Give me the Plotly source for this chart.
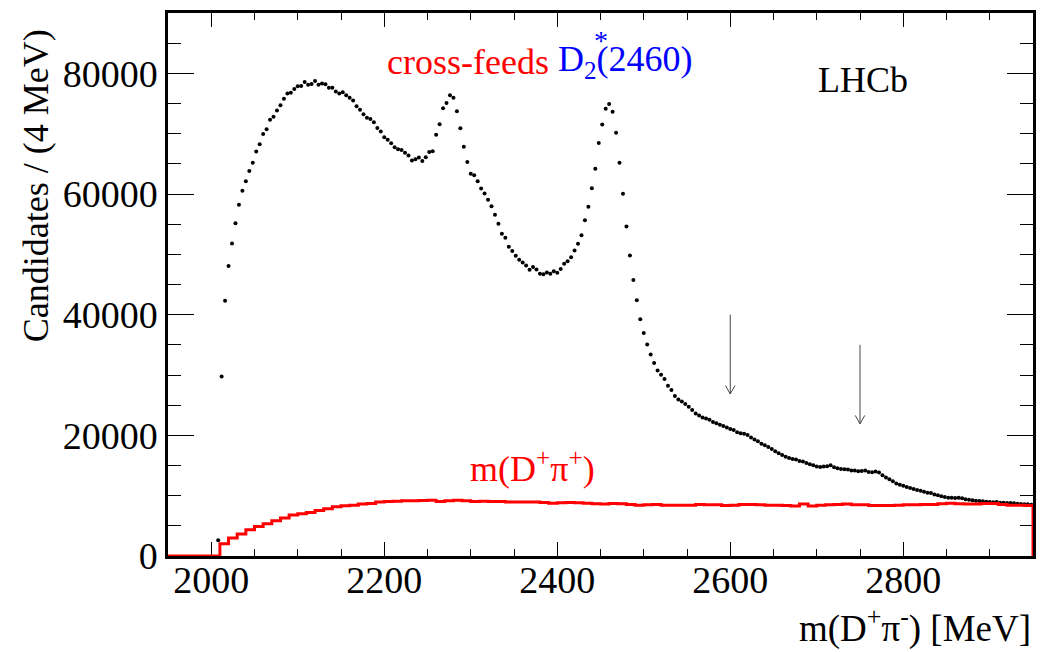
import plotly.graph_objects as go

# m(D+ pi-) candidates, 4 MeV bins, first bin centre 2008 MeV
DATA_FIRST_CENTRE = 2008
DATA_BIN_WIDTH = 4
data_counts = [
    2600, 29750, 42300, 48050, 51800, 55150, 58200, 60550, 62100, 63800,
    65200, 67050, 68250, 69950, 70750, 72300, 72800, 73850, 74700, 75800,
    76650, 76800, 77400, 77850, 77900, 78550, 78100, 78250, 78750, 78100,
    78300, 78200, 77600, 77600, 77000, 76650, 76850, 76350, 75950, 75500,
    74550, 73950, 73200, 72650, 72450, 71900, 70950, 70350, 69400, 69000,
    68400, 67750, 67400, 67300, 66850, 66400, 65550, 65750, 66050, 65450,
    66100, 66950, 67100, 69800, 71550, 74200, 75100, 76350, 75950, 73700,
    70900, 67850, 65300, 63350, 63100, 62100, 60900, 60100, 59050, 57950,
    56550, 55050, 53400, 52750, 51250, 50550, 49750, 49100, 48650, 48150,
    47450, 47900, 47500, 46800, 46700, 47000, 46800, 47200, 46950, 47550,
    48450, 48850, 49500, 50650, 51750, 53150, 55650, 57900, 60950, 64200,
    68450, 71500, 74150, 74900, 73650, 70150, 65200, 60050, 54600, 49800,
    45750, 42400, 39250, 36950, 35050, 33400, 32000, 30750, 30050, 29350,
    28200, 27500, 26500, 25950, 25600, 25200, 24750, 24200, 23600, 23300,
    22950, 22800, 22600, 22200, 22000, 21750, 21550, 21300, 21050, 20900,
    20500, 20350, 20250, 20050, 19650, 19300, 19010, 18620, 18350, 18070,
    17740, 17360, 17030, 16750, 16470, 16250, 16090, 15980, 15760, 15650,
    15430, 15220, 15050, 14830, 14770, 14830, 14880, 15050, 14710, 14550,
    14440, 14380, 14330, 14160, 14160, 14050, 14100, 14160, 13940, 13890,
    14000, 13830, 13390, 13010, 12730, 12400, 12030, 11810, 11650, 11420,
    11260, 11090, 10930, 10820, 10650, 10490, 10430, 10210, 10050, 9890,
    9780, 9670, 9670, 9610, 9670, 9560, 9390, 9340, 9230, 9170,
    9120, 9060, 9010, 8950, 8900, 8950, 8840, 8840, 8780, 8780,
    8730, 8680, 8620, 8570, 8570, 8510,
]

# wrong-sign m(D+ pi+) cross-feed histogram, 10 MeV bins from 2010 MeV
XFEED_LOW_EDGE = 2010
XFEED_BIN_WIDTH = 10
xfeed_counts = [
    2050, 2980, 3640, 4360, 4910, 5360, 5850, 6280, 6780, 7010,
    7220, 7550, 7830, 8160, 8330, 8430, 8600, 8710, 8930, 9040,
    9090, 9150, 9150, 9200, 9260, 9040, 9150, 9260, 9150, 9040,
    9090, 9040, 9040, 8930, 8930, 8930, 8930, 8870, 8760, 8820,
    8870, 8820, 8760, 8650, 8600, 8710, 8650, 8540, 8430, 8490,
    8540, 8430, 8430, 8430, 8430, 8540, 8490, 8490, 8380, 8430,
    8540, 8540, 8490, 8430, 8430, 8380, 8270, 8600, 8270, 8430,
    8490, 8540, 8600, 8490, 8490, 8380, 8380, 8380, 8430, 8490,
    8490, 8540, 8540, 8650, 8760, 8650, 8600, 8600, 8710, 8710,
    8540, 8430, 8430, 8380,
]

# marked masses (arrow x, arrow top, arrow tip)
arrow_mass = [2600, 2750]
arrow_top = [40000, 35000]
arrow_tip = [26850, 21900]

X_RANGE = [1950, 2950]
Y_RANGE = [0, 90000]
x_ticks = [2000, 2200, 2400, 2600, 2800]
y_ticks = [0, 20000, 40000, 60000, 80000]
x_tick_text = [str(v) for v in x_ticks]
y_tick_text = [str(v) for v in y_ticks]

FONT = "Liberation Serif, Times New Roman, serif"

data_x = [DATA_FIRST_CENTRE + DATA_BIN_WIDTH * i for i in range(len(data_counts))]

# step outline: zero before the first bin, back to zero at the last edge
xf_x = [X_RANGE[0]] + [XFEED_LOW_EDGE + XFEED_BIN_WIDTH * i for i in range(len(xfeed_counts) + 1)]
xf_y = [0] + xfeed_counts + [0]

fig = go.Figure()

fig.add_trace(go.Scatter(
    x=data_x, y=data_counts, mode="markers",
    marker=dict(color="black", size=4, line=dict(width=0)),
    showlegend=False, hoverinfo="skip",
))

fig.add_trace(go.Scatter(
    x=xf_x, y=xf_y, mode="lines", line_shape="hv",
    line=dict(color="#ff0000", width=3),
    showlegend=False, hoverinfo="skip",
))

# downward arrows with open heads
head_dx = 5.5
head_dy = 1400
for m, top, tip in zip(arrow_mass, arrow_top, arrow_tip):
    fig.add_shape(type="line", x0=m, x1=m, y0=top, y1=tip,
                  line=dict(color="#444444", width=1))
    fig.add_shape(type="line", x0=m - head_dx, x1=m, y0=tip + head_dy, y1=tip,
                  line=dict(color="#444444", width=1))
    fig.add_shape(type="line", x0=m + head_dx, x1=m, y0=tip + head_dy, y1=tip,
                  line=dict(color="#444444", width=1))

axis_common = dict(
    showline=True, linecolor="black", linewidth=2.5, mirror="ticks",
    ticks="inside", tickcolor="black", tickwidth=1,
    showgrid=False, zeroline=False,
    tickfont=dict(family=FONT, size=38, color="black"),
    layer="below traces",
)

fig.update_xaxes(
    range=X_RANGE, tickvals=x_ticks, ticktext=x_tick_text, ticklen=14,
    ticklabelstandoff=-11,
    minor=dict(ticks="inside", dtick=50, tick0=2000, ticklen=7,
               tickcolor="black", tickwidth=1, showgrid=False),
    **axis_common,
)
fig.update_yaxes(
    range=Y_RANGE, tickvals=y_ticks, ticktext=y_tick_text, ticklen=26,
    minor=dict(ticks="inside", dtick=5000, tick0=0, ticklen=13,
               tickcolor="black", tickwidth=1, showgrid=False),
    **axis_common,
)

annotations = [
    dict(text="Candidates / (4 MeV)", textangle=-90,
         xref="paper", yref="paper", x=-0.153, y=0.974,
         xanchor="center", yanchor="top", showarrow=False,
         font=dict(family=FONT, size=36, color="black")),
    dict(text="m(D<sup>+</sup>\u03c0<sup>-</sup>) [MeV]",
         xref="paper", yref="paper", x=1.0, y=-0.128,
         xanchor="right", yanchor="middle", showarrow=False,
         font=dict(family=FONT, size=37, color="black")),
    dict(text="cross-feeds",
         xref="x", yref="y", x=2201, y=81900,
         xanchor="left", yanchor="middle", showarrow=False,
         font=dict(family=FONT, size=36, color="#ff0000")),
    dict(text="D<sub>2</sub>(2460)",
         xref="x", yref="y", x=2398, y=81900,
         xanchor="left", yanchor="middle", showarrow=False,
         font=dict(family=FONT, size=36, color="#0000ff")),
    dict(text="*",
         xref="x", yref="y", x=2451, y=85500,
         xanchor="center", yanchor="middle", showarrow=False,
         font=dict(family=FONT, size=28, color="#0000ff")),
    dict(text="LHCb",
         xref="x", yref="y", x=2699, y=78900,
         xanchor="left", yanchor="middle", showarrow=False,
         font=dict(family=FONT, size=36, color="black")),
    dict(text="m(D<sup>+</sup>\u03c0<sup>+</sup>)",
         xref="x", yref="y", x=2297, y=14900,
         xanchor="left", yanchor="middle", showarrow=False,
         font=dict(family=FONT, size=36, color="#ff0000")),
]

fig.update_layout(
    width=1043, height=652,
    margin=dict(l=168, r=7, t=13, b=96),
    paper_bgcolor="white", plot_bgcolor="white",
    font=dict(family=FONT, color="black"),
    annotations=annotations,
    showlegend=False,
)

fig.write_html("out.html")
